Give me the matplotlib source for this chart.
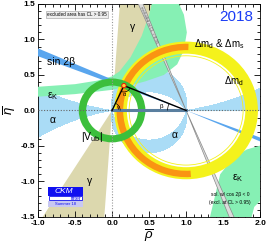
import numpy as np
import matplotlib.pyplot as plt
from matplotlib.patches import Wedge, Polygon, Ellipse, Arc, Rectangle

plt.rcParams['font.family'] = ['Liberation Sans', 'DejaVu Sans']
plt.rcParams['mathtext.fontset'] = 'custom'
plt.rcParams['mathtext.rm'] = 'Liberation Sans'
plt.rcParams['mathtext.it'] = 'Liberation Sans:italic'
plt.rcParams['mathtext.bf'] = 'Liberation Sans:bold'
plt.rcParams['axes.unicode_minus'] = False

# ---- constraint values ----
apex = (0.16, 0.35)
gamma_deg = [58, 86]              # gamma wedge around the origin
alpha_main = [80, 125]            # alpha (deg), upper solution
alpha_lower = [-100, -80]         # mirror solution
alpha_small = [-10, 8.5]          # near-zero solutions
beta_deg = [20.9, 23.6]           # sin 2beta band from (1,0)
beta2_deg = [66.7, 68.8]          # cos 2beta < 0 solution
vub_r = [0.35, 0.45]              # |Vub| ring around (0,0)
dmd_r = [0.80, 0.97]              # Delta m_d ring around (1,0)
dmd_line_r = 0.77
dms_r = [0.85, 0.94]              # Delta m_d & Delta m_s ring
dms_theta = [88, 274]

# eps_K bands (outline points)
ek_up_rho = [-1.05, -0.5, -0.2, 0.0, 0.1, 0.25, 0.4, 0.5, 0.56,
             0.86, 0.97, 1.01, 0.97, 0.88, 0.7, 0.45, 0.2, 0.0, -0.5, -1.05]
ek_up_eta = [0.33, 0.37, 0.42, 0.48, 0.55, 0.75, 1.05, 1.35, 1.6,
             1.6, 1.35, 1.1, 0.85, 0.65, 0.5, 0.41, 0.34, 0.29, 0.23, 0.19]
ek_lo_rho = [1.30, 1.46, 1.64, 1.82, 2.05, 2.05, 1.92, 1.86]
ek_lo_eta = [-1.6, -0.9, -0.66, -0.55, -0.48, -1.22, -1.36, -1.6]

c_gamma = '#dcd8ae'
c_alpha = '#aadcf6'
c_ek = '#86f0b4'
c_s2b = '#5aa6ee'
c_yel = '#f4f21c'
c_ora = '#fa9412'
c_vub = '#3cbf3c'

fig = plt.figure(figsize=(2.66, 2.49), dpi=100)
ax = fig.add_axes([0.143, 0.129, 0.835, 0.855])
ax.set_xlim(-1.0, 2.0)
ax.set_ylim(-1.5, 1.5)

# gamma
ax.add_patch(Wedge((0, 0), 4, gamma_deg[0], gamma_deg[1], color=c_gamma, lw=0, zorder=1))
ax.add_patch(Wedge((0, 0), 4, gamma_deg[0] + 180, gamma_deg[1] + 180, color=c_gamma, lw=0, zorder=1))

# alpha
rho = np.linspace(-1.0, 2.0, 600)
eta = np.linspace(-1.5, 1.5, 600)
R, E = np.meshgrid(rho, eta)
Z = R + 1j * E
alpha = np.degrees(np.angle((Z - 1) / Z))
inside = ((alpha >= alpha_main[0]) & (alpha <= alpha_main[1])) \
    | ((alpha >= alpha_lower[0]) & (alpha <= alpha_lower[1])) \
    | ((alpha >= alpha_small[0]) & (alpha <= alpha_small[1]) & ~((R > 1) & (E < 0)))
ax.contourf(R, E, inside.astype(float), levels=[0.5, 1.5], colors=[c_alpha], zorder=2)

# eps_K
ax.add_patch(Polygon(list(zip(ek_up_rho, ek_up_eta)), closed=True, color=c_ek, lw=0, zorder=3))
ax.add_patch(Polygon(list(zip(ek_lo_rho, ek_lo_eta)), closed=True, color=c_ek, lw=0, zorder=3))


def band(angles, L=4.0):
    b1, b2 = np.radians(angles)
    up = [(1, 0), (1 - L * np.cos(b1), L * np.sin(b1)), (1 - L * np.cos(b2), L * np.sin(b2))]
    dn = [(1, 0), (1 + L * np.cos(b1), -L * np.sin(b1)), (1 + L * np.cos(b2), -L * np.sin(b2))]
    return up, dn


for pts in band(beta_deg):
    ax.add_patch(Polygon(pts, closed=True, color=c_s2b, lw=0, zorder=4))
for pts in band(beta2_deg):
    ax.add_patch(Polygon(pts, closed=True, facecolor='#dcdcdc', edgecolor='#8a8a8a', lw=0.5, zorder=5))

# Delta m rings
ax.add_patch(Wedge((1, 0), dmd_r[1], 0, 360, width=dmd_r[1] - dmd_r[0], color=c_yel, lw=0, zorder=6))
ax.add_patch(Arc((1, 0), 2 * dmd_line_r, 2 * dmd_line_r, color=c_yel, lw=0.6, zorder=6))
ax.add_patch(Wedge((1, 0), dms_r[1], dms_theta[0], dms_theta[1], width=dms_r[1] - dms_r[0],
                   color=c_ora, lw=0, zorder=7))

# |Vub|
ax.add_patch(Wedge((0, 0), vub_r[1], 0, 360, width=vub_r[1] - vub_r[0], color=c_vub, lw=0, zorder=8))

# axes guide lines
ax.axhline(0, color='#666666', ls=(0, (1, 1.5)), lw=0.8, zorder=9)
ax.axvline(0, color='#999999', ls=(0, (1, 1.5)), lw=0.8, zorder=9)

# triangle
ax.plot([0, 1], [0, 0], color='#5a7f9f', lw=2.2, zorder=10)
ax.plot([0, apex[0], 1], [0, apex[1], 0], color='black', lw=1.0, zorder=11)
ax.add_patch(Ellipse(apex, 0.06, 0.06, facecolor='#ffcc33', edgecolor='red', lw=0.6, zorder=12))
ga = np.degrees(np.arctan2(apex[1], apex[0]))
be = np.degrees(np.arctan2(apex[1], 1 - apex[0]))
ax.add_patch(Arc((0, 0), 0.22, 0.22, theta1=0, theta2=ga, color='black', lw=0.5, zorder=11))
ax.add_patch(Arc(apex, 0.18, 0.18, theta1=180 + ga, theta2=360 - be, color='black', lw=0.5, zorder=11))
ax.add_patch(Arc((1, 0), 0.5, 0.5, theta1=180 - be, theta2=180, color='black', lw=0.5, zorder=11))
ax.text(0.09, 0.04, 'γ', fontsize=4, ha='center', va='center', zorder=13)
ax.text(0.17, 0.22, 'α', fontsize=4, ha='center', va='center', zorder=13)
ax.text(0.66, 0.05, 'β', fontsize=4.5, ha='center', va='center', zorder=13)

# labels
fs = 7.5
ax.text(-0.69, 0.68, 'sin 2β', fontsize=fs, ha='center', va='center', zorder=13)
ax.text(-0.8, 0.2, r'ε$_{\rm K}$', fontsize=fs, ha='center', va='center', zorder=13)
ax.text(-0.8, -0.13, 'α', fontsize=fs, ha='center', va='center', zorder=13)
ax.text(-0.27, -0.38, r'|V$_{\rm ub}$|', fontsize=fs, ha='center', va='center', zorder=13)
ax.text(-0.3, -1.0, 'γ', fontsize=fs, ha='center', va='center', zorder=13)
ax.text(0.28, 1.18, 'γ', fontsize=fs, ha='center', va='center', zorder=13)
ax.text(0.85, -0.34, 'α', fontsize=fs, ha='center', va='center', zorder=13)
ax.text(1.45, 0.93, r'Δm$_{\rm d}$ & Δm$_{\rm s}$', fontsize=7, ha='center', va='center', zorder=13)
ax.text(1.65, 0.42, r'Δm$_{\rm d}$', fontsize=7, ha='center', va='center', zorder=13)
ax.text(1.7, -0.95, r'ε$_{\rm K}$', fontsize=fs, ha='center', va='center', zorder=13)
ax.text(1.68, 1.31, '2018', fontsize=11, color='#1a3cf5', ha='center', va='center', zorder=13)
ax.text(1.59, -1.18, 'sol. w/ cos 2β < 0', fontsize=3.5, ha='center', va='center', zorder=13)
ax.text(1.59, -1.30, '(excl. at CL > 0.95)', fontsize=3.5, ha='center', va='center', zorder=13)
ax.text(-0.48, 1.355, 'excluded area has CL > 0.95', fontsize=3.3, ha='center', va='center', zorder=13,
        bbox=dict(boxstyle='square,pad=0.25', facecolor='#eeeeee', edgecolor='#999999', lw=0.4))
ax.text(0.5, 1.2, 'excluded at CL > 0.95', fontsize=3, color='#555555', rotation=-67,
        ha='center', va='center', zorder=13)

# axes style
ax.set_xticks(np.arange(-1.0, 2.01, 0.5))
ax.set_yticks(np.arange(-1.5, 1.51, 0.5))
ax.set_xticks(np.arange(-1.0, 2.01, 0.1), minor=True)
ax.set_yticks(np.arange(-1.5, 1.51, 0.1), minor=True)
ax.tick_params(which='both', direction='in', top=True, right=True, width=0.6)
ax.tick_params(which='major', length=4, labelsize=6, pad=2)
ax.tick_params(which='minor', length=2)
for lab in ax.get_xticklabels() + ax.get_yticklabels():
    lab.set_fontweight('bold')
ax.xaxis.set_major_formatter(plt.FormatStrFormatter('%.1f'))
ax.yaxis.set_major_formatter(plt.FormatStrFormatter('%.1f'))
for s in ax.spines.values():
    s.set_linewidth(0.6)
ax.set_xlabel(r'$\overline{\rho}$', fontsize=9.5, labelpad=1)
ax.set_ylabel(r'$\overline{\eta}$', fontsize=9.5, labelpad=2)

# CKMfitter logo
lg = fig.add_axes([0.18, 0.169, 0.132, 0.08])
lg.set_xlim(0, 1)
lg.set_ylim(0, 1)
lg.axis('off')
lg.add_patch(Rectangle((0, 0.55), 1, 0.45, color='#1010f0', lw=0))
lg.add_patch(Rectangle((0.02, 0.33), 0.96, 0.22, facecolor='white', edgecolor='#1010f0', lw=0.6))
lg.add_patch(Rectangle((0, 0), 1, 0.3, color='#c8c8f2', lw=0))
lg.text(0.45, 0.78, 'CKM', color='white', fontsize=6, style='italic', ha='center', va='center')
lg.text(0.95, 0.43, 'fitter', color='#1010f0', fontsize=4, ha='right', va='center')
lg.text(0.5, 0.15, 'Summer 18', color='#1010f0', fontsize=3, ha='center', va='center')

fig.savefig('out.png', dpi=100)
